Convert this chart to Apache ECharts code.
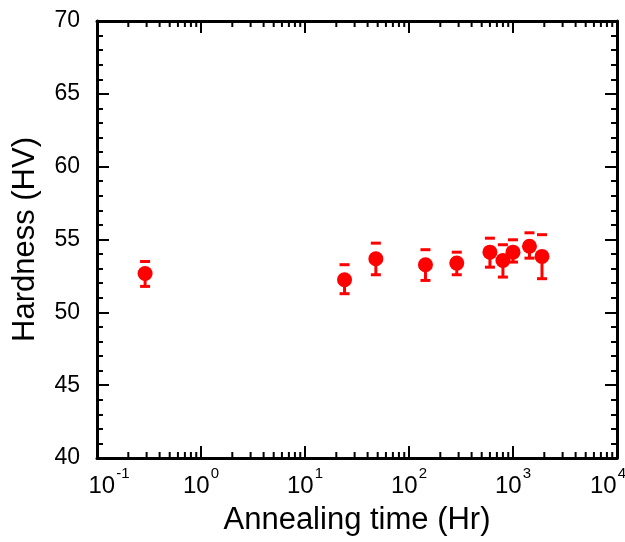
<!DOCTYPE html>
<html>
<head>
<meta charset="utf-8">
<script src="https://cdn.jsdelivr.net/npm/echarts@6/dist/echarts.min.js"></script>
<style>html,body{margin:0;padding:0;background:#fff;}#c{width:625px;height:542px;}</style>
</head>
<body>
<div id="c"></div>
<script>
// ---- data ----
var time = [0.29, 24, 48, 144, 288, 600, 800, 1000, 1440, 1900];
var hardness = [52.67, 52.24, 53.68, 53.27, 53.38, 54.13, 53.56, 54.13, 54.54, 53.84];
var upper = [53.49, 53.27, 54.75, 54.30, 54.13, 55.09, 54.64, 54.98, 55.46, 55.33];
var lower = [51.78, 51.28, 52.58, 52.19, 52.58, 53.10, 52.42, 53.45, 53.72, 52.31];
var xDecades = [-1, 0, 1, 2, 3, 4];
var xMinorMultipliers = [2, 3, 4, 5, 6, 7, 8, 9];
var yTicks = [40, 45, 50, 55, 60, 65, 70];

var FONT = "'Liberation Sans', Arial, sans-serif";
var RED = '#ff0000';

var minorVals = [];
for (var d = 0; d < xDecades.length - 1; d++) {
  for (var m = 0; m < xMinorMultipliers.length; m++) {
    minorVals.push([xMinorMultipliers[m] * Math.pow(10, xDecades[d])]);
  }
}

var scatterData = time.map(function (t, i) { return [t, hardness[i]]; });
var errData = time.map(function (t, i) { return [t, hardness[i], lower[i], upper[i]]; });

function xLabel(v) {
  var e = Math.round(Math.log10(v));
  var s = '{b|10}{s|' + e + '}';
  if (e === xDecades[0]) return '{padL|}' + s;
  if (e === xDecades[xDecades.length - 1]) return s + '{padR|}';
  return s;
}

var chart = echarts.init(document.getElementById('c'), null, {renderer: 'canvas'});
var axisLine = {show: true, onZero: false, lineStyle: {color: '#000', width: 3}};
var option = {
  animation: false,
  backgroundColor: '#fff',
  textStyle: {fontFamily: FONT},
  grid: {left: 97, right: 8, top: 21, bottom: 84, containLabel: false, outerBoundsMode: 'none'},
  xAxis: [{
    type: 'log', logBase: 10, min: 0.1, max: 10000,
    position: 'bottom',
    axisLine: axisLine,
    axisTick: {show: true, inside: true, length: 12, lineStyle: {color: '#000', width: 2}},
    minorTick: {show: false},
    splitLine: {show: false},
    axisLabel: {
      margin: 8, formatter: xLabel, color: '#000', hideOverlap: false,
      showMinLabel: true, showMaxLabel: true,
      rich: {
        b: {fontSize: 24, fontFamily: FONT, color: '#000', verticalAlign: 'bottom', lineHeight: 32},
        s: {fontSize: 15, fontFamily: FONT, color: '#000', verticalAlign: 'top', lineHeight: 30, padding: [0, 0, 0, 1]},
        padL: {width: 24},
        padR: {width: 18}
      }
    },
    name: 'Annealing time (Hr)', nameLocation: 'middle', nameGap: 47,
    nameTextStyle: {fontSize: 31, color: '#000', fontFamily: FONT}
  }, {
    type: 'log', logBase: 10, min: 0.1, max: 10000,
    position: 'top',
    axisLine: axisLine,
    axisTick: {show: true, inside: true, length: 12, lineStyle: {color: '#000', width: 2}},
    axisLabel: {show: false},
    splitLine: {show: false}
  }],
  yAxis: [{
    type: 'value', min: 40, max: 70, interval: 5,
    position: 'left',
    axisLine: axisLine,
    axisTick: {show: true, inside: true, length: 12, lineStyle: {color: '#000', width: 2}},
    minorTick: {show: true, splitNumber: 5, length: 6, lineStyle: {color: '#000', width: 2}},
    splitLine: {show: false},
    axisLabel: {margin: 17, fontSize: 23, color: '#000', fontFamily: FONT},
    name: 'Hardness (HV)', nameLocation: 'middle', nameGap: 56,
    nameTextStyle: {fontSize: 31, color: '#000', fontFamily: FONT}
  }, {
    type: 'value', min: 40, max: 70, interval: 5,
    position: 'right',
    axisLine: axisLine,
    axisTick: {show: true, inside: true, length: 12, lineStyle: {color: '#000', width: 2}},
    minorTick: {show: true, splitNumber: 5, length: 6, lineStyle: {color: '#000', width: 2}},
    splitLine: {show: false},
    axisLabel: {show: false}
  }],
  series: [{
    type: 'custom',
    name: 'minorTicks',
    xAxisIndex: 0, yAxisIndex: 0,
    silent: true, clip: false,
    data: minorVals,
    renderItem: function (params, api) {
      var x = api.coord([api.value(0), 40])[0];
      var yb = api.coord([api.value(0), 40])[1];
      var yt = api.coord([api.value(0), 70])[1];
      var st = {stroke: '#000', lineWidth: 2};
      return {type: 'group', children: [
        {type: 'line', shape: {x1: x, y1: yb, x2: x, y2: yb - 6}, style: st},
        {type: 'line', shape: {x1: x, y1: yt, x2: x, y2: yt + 6}, style: st}
      ]};
    },
    z: 5
  }, {
    type: 'custom',
    name: 'errors',
    xAxisIndex: 0, yAxisIndex: 0,
    data: errData,
    renderItem: function (params, api) {
      var c = api.coord([api.value(0), api.value(1)]);
      var lo = api.coord([api.value(0), api.value(2)]);
      var hi = api.coord([api.value(0), api.value(3)]);
      var w = 5;
      var st = {stroke: RED, lineWidth: 3};
      return {type: 'group', children: [
        {type: 'line', shape: {x1: c[0], y1: c[1], x2: lo[0], y2: lo[1]}, style: st},
        {type: 'line', shape: {x1: lo[0] - w, y1: lo[1], x2: lo[0] + w, y2: lo[1]}, style: st},
        {type: 'line', shape: {x1: hi[0] - w, y1: hi[1], x2: hi[0] + w, y2: hi[1]}, style: st}
      ]};
    },
    z: 3
  }, {
    type: 'scatter',
    name: 'Hardness',
    xAxisIndex: 0, yAxisIndex: 0,
    data: scatterData,
    symbol: 'circle', symbolSize: 15,
    itemStyle: {color: RED, opacity: 1},
    z: 4
  }]
};
chart.setOption(option);
</script>
</body>
</html>
